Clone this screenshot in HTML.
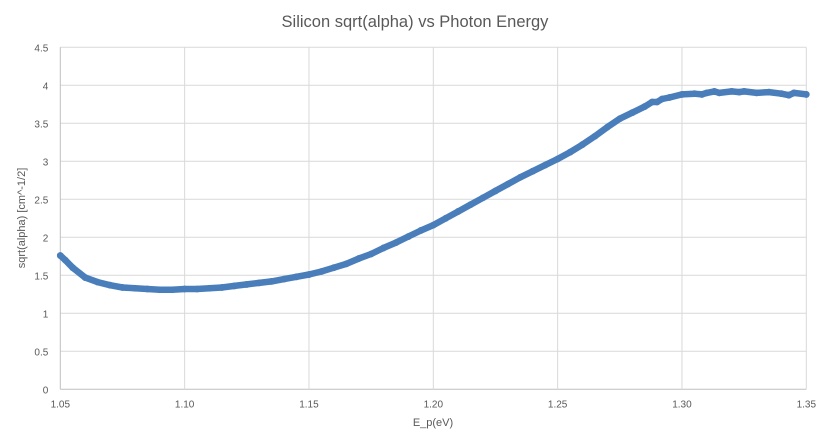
<!DOCTYPE html>
<html><head><meta charset="utf-8">
<style>
html,body{margin:0;padding:0;background:#fff;}
svg text{font-family:"Liberation Sans",sans-serif;}
</style></head>
<body>
<svg id="chart" width="829" height="436" viewBox="0 0 829 436" xmlns="http://www.w3.org/2000/svg">
<text x="415" y="27" text-anchor="middle" font-size="16.5" fill="#595959">Silicon sqrt(alpha) vs Photon Energy</text>
<g id="grid"></g>
<g id="axes"></g>
<g id="series"></g>
<text x="433" y="426" text-anchor="middle" font-size="11" fill="#595959">E_p(eV)</text>
<text transform="translate(25,218) rotate(-90)" text-anchor="middle" font-size="11" fill="#595959">sqrt(alpha) [cm^-1/2]</text>
</svg>
<script>
const energies = [1.050,1.052,1.055,1.060,1.065,1.070,1.075,1.080,1.085,1.090,1.095,1.100,1.105,1.110,1.115,1.120,1.125,1.130,1.135,1.140,1.145,1.150,1.155,1.160,1.165,1.170,1.175,1.180,1.185,1.190,1.195,1.200,1.205,1.210,1.215,1.220,1.225,1.230,1.235,1.240,1.245,1.250,1.255,1.260,1.265,1.270,1.275,1.280,1.285,1.288,1.290,1.292,1.295,1.300,1.305,1.308,1.310,1.313,1.315,1.320,1.323,1.325,1.330,1.335,1.340,1.343,1.345,1.350];
const sqrtAlpha = [1.76,1.70,1.60,1.47,1.41,1.37,1.34,1.33,1.32,1.31,1.31,1.32,1.32,1.33,1.34,1.36,1.38,1.40,1.42,1.45,1.48,1.51,1.55,1.60,1.65,1.72,1.78,1.86,1.93,2.01,2.09,2.16,2.25,2.34,2.43,2.52,2.61,2.70,2.79,2.87,2.95,3.03,3.12,3.22,3.33,3.45,3.56,3.64,3.72,3.78,3.78,3.82,3.84,3.88,3.89,3.88,3.90,3.92,3.90,3.92,3.91,3.92,3.90,3.91,3.89,3.87,3.90,3.88];
const xTicks = [1.05,1.10,1.15,1.20,1.25,1.30,1.35];
const xTickLabels = ["1.05","1.10","1.15","1.20","1.25","1.30","1.35"];
const yTicks = [0,0.5,1,1.5,2,2.5,3,3.5,4,4.5];
const yTickLabels = ["0","0.5","1","1.5","2","2.5","3","3.5","4","4.5"];

const L=60.3,R=806.3,T=47.3,B=389.3;
const xMin=1.05,xMax=1.35,yMin=0,yMax=4.5;
function xs(v){return L+(v-xMin)/(xMax-xMin)*(R-L);}
function ys(v){return B-(v-yMin)/(yMax-yMin)*(B-T);}
const NS="http://www.w3.org/2000/svg";
const grid=document.getElementById('grid'),axes=document.getElementById('axes'),series=document.getElementById('series');
function mk(tag,attrs,parent){const e=document.createElementNS(NS,tag);for(const k in attrs)e.setAttribute(k,attrs[k]);parent.appendChild(e);return e;}

yTicks.forEach((v,i)=>{
  const ln=mk('line',{x1:L,x2:R,y1:ys(v),y2:ys(v),stroke:v===0?'#bfbfbf':'#d9d9d9','stroke-width':1},grid);
  
  
  const t=mk('text',{x:L-12,y:ys(v)+4,'text-anchor':'end','font-size':10,fill:'#595959'},axes);
  t.textContent=yTickLabels[i];
  
  
});
xTicks.forEach((v,i)=>{
  const ln=mk('line',{x1:xs(v),x2:xs(v),y1:T,y2:B,stroke:i===0?'#bfbfbf':'#d9d9d9','stroke-width':1},grid);
  
  
  const t=mk('text',{x:xs(v),y:B+18,'text-anchor':'middle','font-size':10,fill:'#595959'},axes);
  t.textContent=xTickLabels[i];
  
  
});

const pts=energies.map((e,i)=>xs(e).toFixed(1)+','+ys(sqrtAlpha[i]).toFixed(1)).join(' ');
const pl=mk('polyline',{points:pts,fill:'none',stroke:'#4a7ebb','stroke-width':6.5,'stroke-linejoin':'round','stroke-linecap':'round'},series);


energies.forEach((e,i)=>{
  const c=mk('circle',{cx:xs(e),cy:ys(sqrtAlpha[i]),r:3.4,fill:'#4a7ebb'},series);
  
  
});
</script>
</body></html>
